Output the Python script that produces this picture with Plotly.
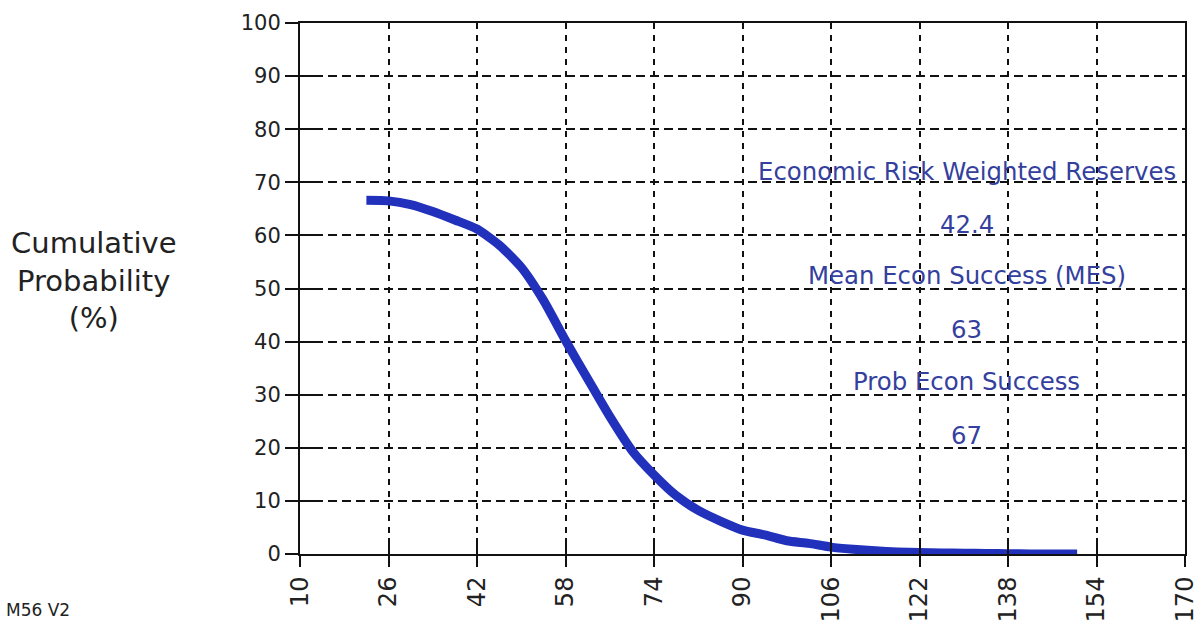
import plotly.graph_objects as go

# Cumulative probability curve (reserves on x, % on y)
reserves = [22, 26, 30, 34, 38, 42, 46, 50, 54, 58, 62, 66, 70, 74, 78, 82, 86, 90,
            94, 98, 102, 106, 110, 114, 118, 122, 126, 130, 134, 138, 142, 146, 150.5]
cum_prob = [66.6, 66.5, 65.8, 64.5, 62.9, 61.2, 58.2, 54.0, 47.8, 40.2, 33.0, 25.9,
            19.5, 14.9, 11.0, 8.2, 6.2, 4.5, 3.6, 2.5, 2.0, 1.3, 0.9, 0.6, 0.4, 0.3,
            0.2, 0.15, 0.1, 0.05, 0.0, 0.0, 0.0]

x_ticks = [10, 26, 42, 58, 74, 90, 106, 122, 138, 154, 170]
y_ticks = [0, 10, 20, 30, 40, 50, 60, 70, 80, 90, 100]

# Summary statistics shown inside the plot
stat_labels = ["Economic Risk Weighted Reserves", "42.4",
               "Mean Econ Success (MES)", "63",
               "Prob Econ Success", "67"]
stat_y = [72.1, 62.1, 52.4, 42.2, 32.4, 22.4]
stat_x = 130.5

FONT = "DejaVu Sans, Verdana, sans-serif"
TEXT_BLUE = "#343f9e"
CURVE_BLUE = "#2131bb"
INK = "#111111"

fig = go.Figure()
fig.add_trace(go.Scatter(
    x=reserves, y=cum_prob, mode="lines",
    line=dict(color=CURVE_BLUE, width=9, shape="spline", smoothing=0.6),
    hoverinfo="skip", showlegend=False,
))
# empty trace so the overlay axes (inner tick marks) get drawn
fig.add_trace(go.Scatter(x=[], y=[], xaxis="x2", yaxis="y2", showlegend=False))

for txt, yv in zip(stat_labels, stat_y):
    fig.add_annotation(x=stat_x, y=yv, text=txt, showarrow=False,
                       font=dict(family=FONT, size=24.4, color=TEXT_BLUE),
                       xanchor="center", yanchor="middle")

fig.add_annotation(xref="paper", yref="paper", x=-0.2328, y=0.516,
                   text="Cumulative<br>Probability<br>(%)", showarrow=False,
                   align="center", xanchor="center", yanchor="middle",
                   font=dict(family=FONT, size=29, color="#222222"))

fig.add_annotation(xref="paper", yref="paper", x=-0.335, y=-0.106,
                   text="M56 V2", showarrow=False, xanchor="left", yanchor="middle",
                   font=dict(family=FONT, size=17, color="#222222"))

axis_common = dict(showline=True, linecolor=INK, linewidth=2, mirror=True,
                   ticks="outside", tickcolor=INK, tickwidth=2,
                   zeroline=False, gridcolor=INK, gridwidth=2, automargin=False,
                   ticklabeloverflow="allow")

fig.update_layout(
    width=1197, height=621,
    margin=dict(l=300, r=12, t=23, b=67),
    paper_bgcolor="white", plot_bgcolor="white",
    xaxis=dict(range=[10, 170], tickvals=x_ticks, tickangle=-90, ticklen=11,
               griddash="6px,6px",
               tickfont=dict(family=FONT, size=24, color="#222222"), **axis_common),
    yaxis=dict(range=[0, 100], tickvals=y_ticks, ticklen=13,
               griddash="9px,5px",
               tickfont=dict(family=FONT, size=21, color="#222222"), **axis_common),
    xaxis2=dict(overlaying="x", matches="x", range=[10, 170], tickvals=x_ticks,
                ticks="inside", ticklen=16, tickwidth=2, tickcolor=INK,
                showticklabels=False, showgrid=False, zeroline=False,
                showline=False, anchor="y2", side="bottom"),
    yaxis2=dict(overlaying="y", matches="y", range=[0, 100], tickvals=y_ticks,
                ticks="inside", ticklen=17, tickwidth=2, tickcolor=INK,
                showticklabels=False, showgrid=False, zeroline=False,
                showline=False, anchor="x2", side="left"),
)

fig.write_html("out.html")
